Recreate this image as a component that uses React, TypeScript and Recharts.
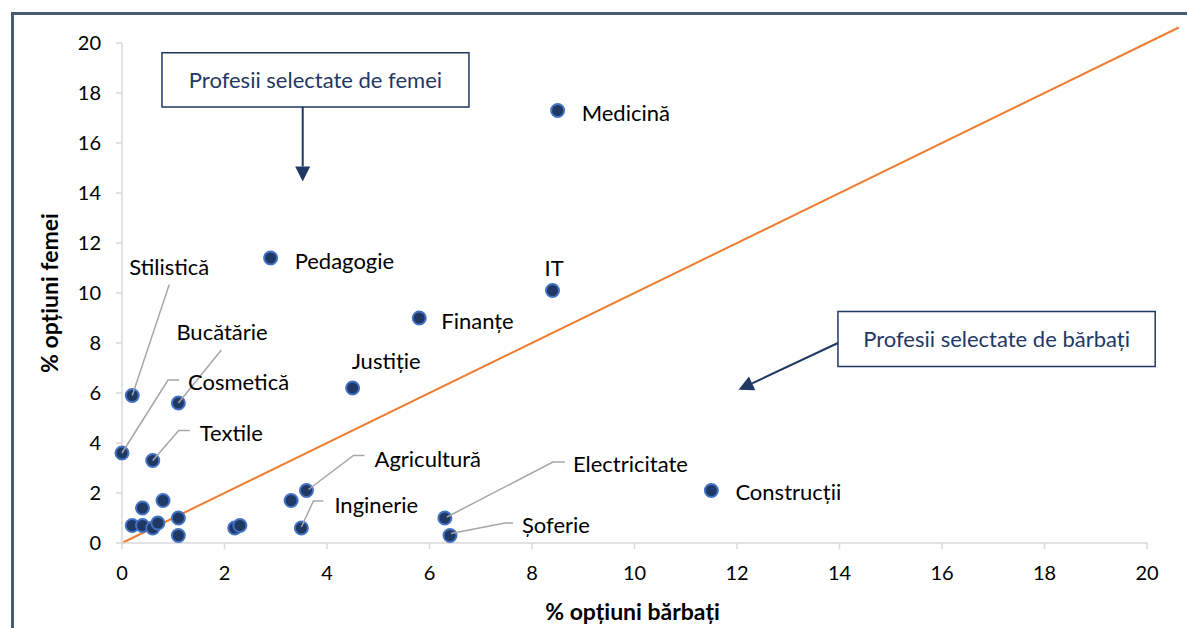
import { ScatterChart, Scatter, XAxis, YAxis, ReferenceLine, ReferenceArea } from 'recharts';

const FONT = "Lato, 'Open Sans', sans-serif";
const NAVY = '#1f3864';

// profession names ('' = unlabelled point), % of men, % of women
const names = [
  'Medicină', 'Pedagogie', 'IT', 'Finanțe', 'Justiție', 'Stilistică', 'Bucătărie',
  'Cosmetică', 'Textile', 'Agricultură', 'Inginerie', 'Electricitate', 'Șoferie', 'Construcții',
  '', '', '', '', '', '', '', '', '', '', '',
];
const menPct = [
  8.5, 2.9, 8.4, 5.8, 4.5, 0.2, 1.1,
  0.0, 0.6, 3.6, 3.5, 6.3, 6.4, 11.5,
  3.3, 0.2, 0.4, 0.4, 0.6, 0.7, 0.8, 1.1, 1.1, 2.2, 2.3,
];
const womenPct = [
  17.3, 11.4, 10.1, 9.0, 6.2, 5.9, 5.6,
  3.6, 3.3, 2.1, 0.6, 1.0, 0.3, 2.1,
  1.7, 0.7, 0.7, 1.4, 0.6, 0.8, 1.7, 1.0, 0.3, 0.6, 0.7,
];
const axisTicks = [0, 2, 4, 6, 8, 10, 12, 14, 16, 18, 20];

const points = names.map((name, i) => ({ name, x: menPct[i], y: womenPct[i] }));
const labelled = points.filter((p) => p.name !== '');

// label placement relative to the point, in pixels
const LABEL_LAYOUT: Record<string, { dx: number; dy: number; leader?: [number, number][] }> = {
  'Medicină': { dx: 24, dy: 2 },
  'Pedagogie': { dx: 24, dy: 2 },
  'IT': { dx: -8, dy: -23 },
  'Finanțe': { dx: 22, dy: 2 },
  'Justiție': { dx: -1, dy: -28 },
  'Construcții': { dx: 24, dy: 1 },
  'Stilistică': { dx: -3, dy: -129, leader: [[37, -111], [0, 0]] },
  'Bucătărie': { dx: -2, dy: -72, leader: [[43, -53], [0, 0]] },
  'Cosmetică': { dx: 66, dy: -72, leader: [[57, -73], [46, -73], [0, 0]] },
  'Textile': { dx: 47, dy: -28, leader: [[37, -30], [26, -30], [0, 0]] },
  'Agricultură': { dx: 68, dy: -32, leader: [[58, -35], [47, -35], [2, -1]] },
  'Inginerie': { dx: 33, dy: -24, leader: [[22, -27], [12, -27], [0, -1]] },
  'Electricitate': { dx: 128, dy: -55, leader: [[120, -56], [108, -56], [2, -1]] },
  'Șoferie': { dx: 72, dy: -11, leader: [[63, -12.5], [55, -12.5], [1, -2]] },
};

const Dot = (props: any) => {
  const { cx, cy } = props;
  if (cx == null || cy == null) return null;
  return <circle cx={cx} cy={cy} r={6.5} fill={NAVY} stroke="#4472c4" strokeWidth={2} />;
};

const PointLabel = (props: any) => {
  const { cx, cy, payload } = props;
  if (cx == null || cy == null || !payload) return null;
  const layout = LABEL_LAYOUT[payload.name];
  if (!layout) return null;
  return (
    <g>
      {layout.leader && (
        <polyline
          points={layout.leader.map(([lx, ly]) => `${cx + lx},${cy + ly}`).join(' ')}
          fill="none"
          stroke="#a6a6a6"
          strokeWidth={1.5}
        />
      )}
      <text
        x={cx + layout.dx}
        y={cy + layout.dy}
        dominantBaseline="central"
        fontSize={22}
        fontFamily={FONT}
        fill="#000"
      >
        {payload.name}
      </text>
    </g>
  );
};

const ArrowShape = (p: any) => {
  const { x1, y1, x2, y2 } = p;
  if ([x1, y1, x2, y2].some((v) => v == null || isNaN(v))) return null;
  const ang = Math.atan2(y2 - y1, x2 - x1);
  const len = 15;
  const half = 7.5;
  const bx = x2 - len * Math.cos(ang);
  const by = y2 - len * Math.sin(ang);
  const px = -Math.sin(ang) * half;
  const py = Math.cos(ang) * half;
  return (
    <g>
      <line x1={x1} y1={y1} x2={bx} y2={by} stroke={NAVY} strokeWidth={2} />
      <polygon points={`${x2},${y2} ${bx + px},${by + py} ${bx - px},${by - py}`} fill={NAVY} />
    </g>
  );
};

const YTitle = (props: any) => {
  const vb = props.viewBox || { x: 0, y: 43, width: 122, height: 500 };
  const cx = vb.x + 58;
  const cy = vb.y + vb.height / 2;
  return (
    <text
      x={cx}
      y={cy}
      transform={`rotate(-90 ${cx} ${cy})`}
      textAnchor="middle"
      fontSize={23}
      fontWeight="bold"
      fontFamily={FONT}
      fill="#000"
    >
      % opțiuni femei
    </text>
  );
};

const XTitle = (props: any) => {
  const vb = props.viewBox || { x: 122, y: 543, width: 1025, height: 85 };
  return (
    <text
      x={vb.x + vb.width / 2 - 2}
      y={vb.y + 77}
      textAnchor="middle"
      fontSize={23}
      fontWeight="bold"
      fontFamily={FONT}
      fill="#000"
    >
      % opțiuni bărbați
    </text>
  );
};

const tickStyle = { fill: '#000', fontSize: 20, fontFamily: FONT };

export default function App() {
  return (
    <div style={{ position: 'absolute', left: 0, top: 0, width: 1187, height: 628, overflow: 'hidden', background: '#fff' }}>
      <div
        style={{
          position: 'absolute',
          left: 11,
          top: 12,
          width: 1300,
          height: 700,
          border: '3px solid #4a5a70',
          boxSizing: 'border-box',
        }}
      />
      <div style={{ position: 'absolute', left: 0, top: 0 }}>
        <ScatterChart
          width={1187}
          height={628}
          margin={{ top: 43, right: 40, bottom: 0, left: 0 }}
          style={{ fontFamily: FONT }}
        >
          <XAxis
            type="number"
            dataKey="x"
            domain={[0, 20]}
            ticks={axisTicks}
            interval={0}
            height={85}
            tickSize={6}
            tickMargin={17}
            tick={tickStyle}
            axisLine={{ stroke: '#d9d9d9', strokeWidth: 1.5 }}
            tickLine={{ stroke: '#d9d9d9', strokeWidth: 1.5 }}
            label={XTitle}
          />
          <YAxis
            type="number"
            dataKey="y"
            domain={[0, 20]}
            ticks={axisTicks}
            interval={0}
            width={122}
            tickSize={6}
            tickMargin={15}
            tick={tickStyle}
            axisLine={{ stroke: '#d9d9d9', strokeWidth: 1.5 }}
            tickLine={{ stroke: '#d9d9d9', strokeWidth: 1.5 }}
            label={YTitle}
          />
          <ReferenceLine
            segment={[{ x: 0, y: 0 }, { x: 20.62, y: 20.62 }]}
            stroke="#ed7d31"
            strokeWidth={2}
            ifOverflow="visible"
          />
          <ReferenceArea
            x1={0.78}
            x2={6.77}
            y1={17.44}
            y2={19.61}
            fill="#fff"
            fillOpacity={1}
            stroke={NAVY}
            strokeWidth={1.5}
            ifOverflow="visible"
            label={{ value: 'Profesii selectate de femei', position: 'center', fill: NAVY, fontSize: 22, fontFamily: FONT }}
          />
          <ReferenceArea
            x1={13.97}
            x2={20.16}
            y1={7.06}
            y2={9.26}
            fill="#fff"
            fillOpacity={1}
            stroke={NAVY}
            strokeWidth={1.5}
            ifOverflow="visible"
            label={{ value: 'Profesii selectate de bărbați', position: 'center', fill: NAVY, fontSize: 22, fontFamily: FONT }}
          />
          <ReferenceLine
            segment={[{ x: 3.526, y: 17.44 }, { x: 3.526, y: 14.46 }]}
            ifOverflow="visible"
            shape={ArrowShape}
          />
          <ReferenceLine
            segment={[{ x: 13.97, y: 8.0 }, { x: 12.03, y: 6.13 }]}
            ifOverflow="visible"
            shape={ArrowShape}
          />
          <Scatter data={points} shape={Dot} isAnimationActive={false} />
          <Scatter data={labelled} shape={PointLabel} isAnimationActive={false} />
        </ScatterChart>
      </div>
    </div>
  );
}
